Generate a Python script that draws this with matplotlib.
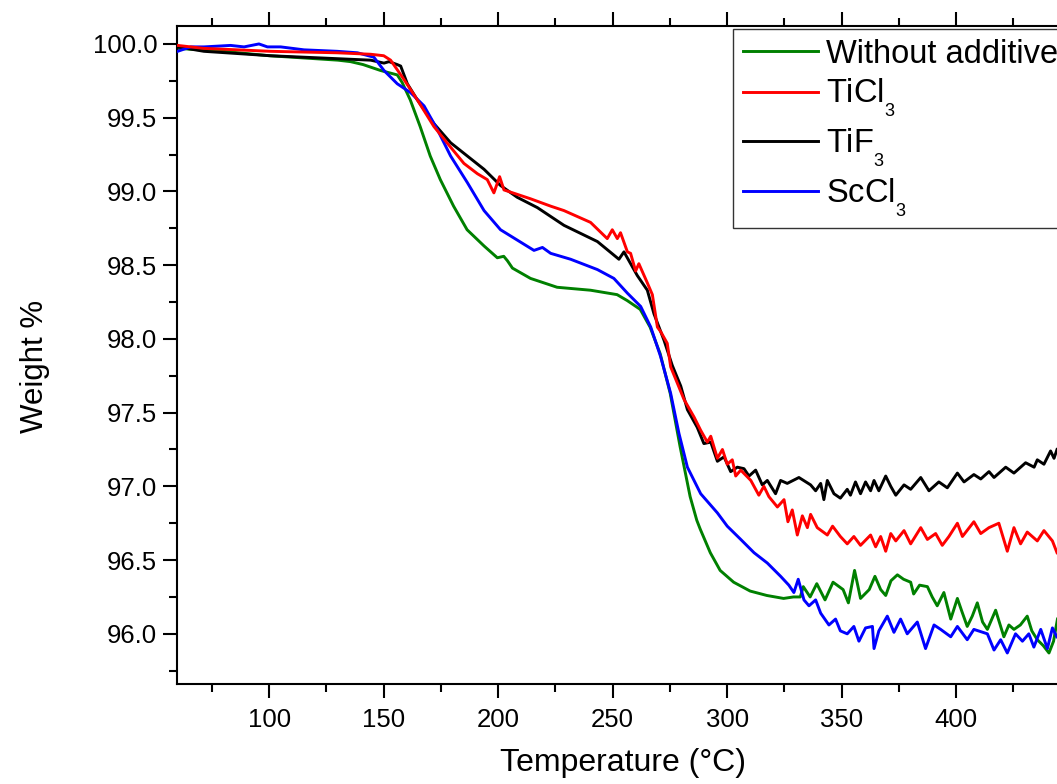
import numpy as np
import matplotlib
matplotlib.use("Agg")
import matplotlib.pyplot as plt
import matplotlib._mathtext as mathtext_internals
from matplotlib.ticker import MultipleLocator, FormatStrFormatter

plt.rcParams["font.family"] = ["Liberation Sans", "DejaVu Sans"]
plt.rcParams["mathtext.fontset"] = "custom"
plt.rcParams["mathtext.rm"] = "Liberation Sans"
plt.rcParams["mathtext.it"] = "Liberation Sans:italic"
# the original draws small, deep subscripts (Origin style)
mathtext_internals.SHRINK_FACTOR = 0.55
mathtext_internals.FontConstantsBase.sub1 = 0.8

# (temperature degC, weight %)
without_additive = np.array([
    (60.0, 99.97), (80, 99.95), (100, 99.92), (120, 99.90), (130, 99.89),
    (135.5, 99.88), (141, 99.86), (148.6, 99.82), (155.9, 99.79), (158, 99.74),
    (161.6, 99.62), (165.9, 99.44), (170.3, 99.24), (174.7, 99.08), (180.5, 98.90),
    (186.4, 98.74), (193.8, 98.63), (199.6, 98.55), (202.4, 98.56), (204.0, 98.53),
    (206.2, 98.48), (214.1, 98.41), (225.7, 98.35), (240.3, 98.33), (251.9, 98.30),
    (256.3, 98.26), (262.0, 98.20), (266.3, 98.08), (270.7, 97.90), (275.1, 97.63),
    (279.4, 97.27), (283.8, 96.93), (286.7, 96.77), (288.2, 96.71), (292.6, 96.55),
    (296.9, 96.43), (302.8, 96.35), (310.0, 96.29), (317.3, 96.26), (324.6, 96.24),
    (328.9, 96.25), (331.9, 96.25), (333.2, 96.32), (336.2, 96.25), (339.1, 96.34),
    (342.7, 96.23), (346.2, 96.35), (350.6, 96.30), (352.9, 96.21), (355.6, 96.43),
    (358.2, 96.24), (362.0, 96.30), (364.5, 96.39), (367.0, 96.30), (369.2, 96.26),
    (371.5, 96.36), (374.3, 96.40), (377.0, 96.37), (380.1, 96.35), (381.4, 96.27),
    (384.0, 96.33), (387.4, 96.32), (389.5, 96.25), (391.7, 96.19), (394.6, 96.28),
    (397.6, 96.10), (400.5, 96.24), (402.5, 96.15), (404.8, 96.05), (407.0, 96.12),
    (409.2, 96.21), (411.5, 96.08), (413.6, 96.03), (417.2, 96.16), (420.8, 95.98),
    (423.0, 96.06), (425.2, 96.03), (428.0, 96.06), (431.0, 96.12), (433.0, 96.02),
    (435.4, 95.96), (438.0, 95.92), (440.5, 95.87), (442.5, 95.95), (444.2, 96.10),
])

ticl3 = np.array([
    (60.0, 99.99), (71.4, 99.97), (100.6, 99.95), (129.7, 99.94), (144.3, 99.93),
    (150.0, 99.92), (153.0, 99.89), (158.8, 99.76), (164.7, 99.62), (171.9, 99.44),
    (179.2, 99.30), (185.0, 99.19), (190.9, 99.12), (195.2, 99.08), (198.1, 98.99),
    (200.6, 99.10), (202.5, 99.01), (208.3, 98.98), (214.1, 98.95), (222.9, 98.90),
    (228.7, 98.87), (240.3, 98.79), (247.6, 98.68), (249.8, 98.74), (252.0, 98.68),
    (253.4, 98.72), (256.4, 98.59), (257.8, 98.58), (260.0, 98.46), (261.4, 98.51),
    (265.1, 98.38), (267.3, 98.30), (269.5, 98.08), (270.9, 98.05), (273.8, 97.97),
    (275.3, 97.81), (278.2, 97.70), (281.1, 97.59), (285.5, 97.47), (288.4, 97.38),
    (291.3, 97.30), (292.8, 97.34), (295.7, 97.19), (297.9, 97.25), (300.0, 97.15),
    (302.2, 97.18), (303.7, 97.07), (305.9, 97.11), (310.3, 97.04), (313.8, 96.94),
    (316.0, 97.00), (318.2, 96.93), (321.9, 96.86), (324.8, 96.91), (326.5, 96.76),
    (328.4, 96.84), (330.6, 96.67), (332.8, 96.80), (335.0, 96.72), (336.4, 96.81),
    (339.3, 96.72), (343.7, 96.67), (346.0, 96.73), (349.4, 96.66), (352.4, 96.61),
    (355.3, 96.66), (358.2, 96.60), (362.6, 96.67), (364.8, 96.59), (367.0, 96.66),
    (369.2, 96.56), (371.4, 96.68), (373.6, 96.63), (377.2, 96.70), (380.1, 96.61),
    (384.5, 96.72), (387.4, 96.64), (391.0, 96.68), (393.9, 96.60), (396.8, 96.66),
    (400.5, 96.75), (402.7, 96.66), (407.7, 96.76), (410.7, 96.68), (414.3, 96.72),
    (418.6, 96.75), (422.3, 96.56), (425.2, 96.72), (428.1, 96.61), (431.0, 96.69),
    (435.4, 96.63), (438.3, 96.70), (442.0, 96.63), (444.0, 96.55),
])

tif3 = np.array([
    (60.0, 99.98), (71.5, 99.95), (100.6, 99.92), (129.7, 99.90), (144.3, 99.89),
    (150.1, 99.87), (152.3, 99.88), (155.9, 99.86), (157.4, 99.85), (160.3, 99.73),
    (164.7, 99.62), (171.9, 99.46), (179.2, 99.33), (186.5, 99.24), (193.8, 99.15),
    (201.0, 99.04), (208.3, 98.96), (217.1, 98.89), (228.7, 98.77), (243.3, 98.66),
    (252.7, 98.54), (254.9, 98.59), (260.7, 98.43), (265.1, 98.33), (268.0, 98.17),
    (272.4, 97.99), (276.0, 97.82), (279.7, 97.68), (282.6, 97.52), (286.9, 97.40),
    (289.8, 97.29), (292.8, 97.30), (295.7, 97.17), (298.6, 97.20), (301.5, 97.10),
    (304.4, 97.13), (307.3, 97.12), (309.5, 97.07), (312.4, 97.11), (315.3, 97.01),
    (317.5, 97.04), (321.1, 96.95), (323.3, 97.04), (326.2, 97.02), (331.3, 97.06),
    (336.4, 97.01), (338.6, 96.97), (340.8, 97.02), (342.2, 96.91), (343.7, 97.04),
    (346.6, 96.95), (349.4, 96.92), (352.4, 96.98), (353.8, 96.94), (356.0, 97.03),
    (358.2, 96.95), (360.4, 97.03), (362.6, 96.97), (364.1, 97.04), (366.2, 96.97),
    (369.2, 97.07), (371.4, 97.00), (373.6, 96.94), (377.2, 97.01), (380.1, 96.98),
    (384.5, 97.06), (388.1, 96.97), (392.4, 97.03), (396.1, 96.99), (400.5, 97.09),
    (403.4, 97.03), (407.7, 97.08), (410.7, 97.05), (414.3, 97.10), (416.5, 97.06),
    (421.6, 97.13), (425.2, 97.09), (430.3, 97.16), (434.0, 97.13), (435.4, 97.18),
    (438.3, 97.15), (441.2, 97.24), (442.7, 97.19), (444.0, 97.25),
])

sccl3 = np.array([
    (60.0, 99.95), (65.7, 99.98), (71.5, 99.98), (83.1, 99.99), (89.0, 99.98),
    (95.5, 100.00), (99.2, 99.98), (105.0, 99.98), (115.2, 99.96), (129.7, 99.95),
    (138.5, 99.94), (145.7, 99.91), (150.1, 99.82), (155.9, 99.73), (161.7, 99.67),
    (167.6, 99.58), (173.4, 99.42), (179.2, 99.24), (186.5, 99.06), (193.8, 98.87),
    (201.0, 98.74), (208.3, 98.67), (215.6, 98.60), (219.3, 98.62), (222.9, 98.58),
    (231.6, 98.54), (243.3, 98.47), (250.5, 98.41), (256.4, 98.31), (262.2, 98.22),
    (266.6, 98.08), (270.9, 97.88), (275.3, 97.63), (278.9, 97.36), (282.6, 97.13),
    (288.4, 96.95), (295.7, 96.82), (300.0, 96.73), (305.9, 96.64), (311.7, 96.55),
    (317.5, 96.48), (323.3, 96.39), (326.9, 96.33), (329.1, 96.28), (331.0, 96.37),
    (333.5, 96.23), (335.7, 96.19), (338.6, 96.23), (340.8, 96.14), (344.4, 96.06),
    (347.3, 96.10), (349.4, 96.02), (352.4, 96.00), (355.3, 96.05), (357.5, 95.95),
    (360.4, 96.04), (363.4, 96.05), (364.1, 95.90), (366.2, 96.02), (369.9, 96.12),
    (372.8, 96.01), (375.7, 96.10), (378.6, 96.00), (383.0, 96.08), (386.6, 95.90),
    (390.3, 96.06), (393.2, 96.03), (397.6, 95.98), (400.5, 96.05), (404.8, 95.96),
    (407.7, 96.03), (413.6, 96.00), (416.5, 95.89), (419.4, 95.96), (422.3, 95.87),
    (425.9, 96.00), (428.9, 95.95), (431.7, 96.00), (433.9, 95.91), (436.9, 96.03),
    (439.8, 95.90), (442.0, 96.04), (443.9, 95.98),
])

labels = ["Without additive", r"$\mathregular{TiCl_3}$", r"$\mathregular{TiF_3}$",
          r"$\mathregular{ScCl_3}$"]
colors = ["#008000", "#ff0000", "#000000", "#0000ff"]

fig = plt.figure(figsize=(10.57, 7.84), dpi=100)
ax = fig.add_axes([0.1672, 0.1276, 0.8393, 0.8393])

series = [without_additive, ticl3, tif3, sccl3]
zorders = [2, 5, 3, 4]
handles = []
for data, lab, c, z in zip(series, labels, colors, zorders):
    h, = ax.plot(data[:, 0], data[:, 1], color=c, lw=2.1, label=lab, zorder=z)
    handles.append(h)

ax.set_xlim(59.6, 447)
ax.set_ylim(95.66, 100.122)
ax.xaxis.set_major_locator(MultipleLocator(50))
ax.xaxis.set_minor_locator(MultipleLocator(25))
ax.yaxis.set_major_locator(MultipleLocator(0.5))
ax.yaxis.set_minor_locator(MultipleLocator(0.25))
ax.yaxis.set_major_formatter(FormatStrFormatter("%.1f"))

ax.tick_params(which="both", direction="out", top=True, right=False,
               labelsize=18.5, width=1.5)
ax.tick_params(which="major", length=10)
ax.tick_params(which="minor", length=5.8)
ax.tick_params(axis="x", pad=7)
ax.tick_params(axis="y", pad=4)
for s in ax.spines.values():
    s.set_linewidth(1.5)

ax.set_xlabel("Temperature (°C)", fontsize=23)
ax.set_ylabel("Weight %", fontsize=22.5)
ax.xaxis.set_label_coords(0.503, -0.097)
ax.yaxis.set_label_coords(-0.143, 0.483)

leg = ax.legend(handles=handles, loc="upper left", bbox_to_anchor=(0.627, 0.9954),
                borderaxespad=0, fontsize=23.5, fancybox=False, framealpha=1,
                edgecolor="#333333", handlelength=2.3, handletextpad=0.25,
                borderpad=0.3, labelspacing=0.22)
leg.get_frame().set_linewidth(1.0)

fig.savefig("out.png", dpi=100)
